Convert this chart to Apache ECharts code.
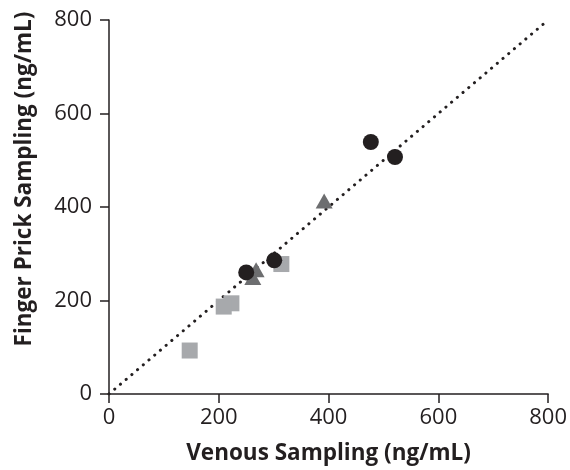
<!DOCTYPE html>
<html><head><meta charset="utf-8">
<script src="https://cdn.jsdelivr.net/npm/echarts@6/dist/echarts.min.js"></script>
<style>html,body{margin:0;padding:0;background:#fff}#c{width:570px;height:470px}</style>
</head><body><div id="c"></div>
<script>
const circles = [[477,539],[521,507],[301,286],[250,260]];
const triangles = [[392,413],[268,266],[262,249]];
const squares = [[314,278],[223,194],[209,187],[147,93]];
const identityLine = [[0,0],[800,800]];
const xTicks = [0,200,400,600,800];
const yTicks = [0,200,400,600,800];

const chart = echarts.init(document.getElementById('c'));
const axisCommon = {
  min: 0, max: 800, interval: 200,
  axisLine: {show: true, lineStyle: {color: '#231f20', width: 1.5}},
  axisTick: {show: true, inside: false, length: 9, lineStyle: {color: '#231f20', width: 1.5}},
  splitLine: {show: false},
  axisLabel: {fontFamily: 'Open Sans', fontSize: 22, color: '#231f20'}
};
const nameStyle = {fontFamily: 'Open Sans', fontWeight: 'bold', fontSize: 22.5, color: '#231f20'};
chart.setOption({
  animation: false,
  grid: {left: 109, right: 20, top: 20, bottom: 70},
  xAxis: Object.assign({}, axisCommon, {
    type: 'value', name: 'Venous Sampling (ng/mL)', nameLocation: 'middle', nameGap: 48,
    nameTextStyle: nameStyle,
    axisLabel: Object.assign({}, axisCommon.axisLabel, {margin: 13, formatter: v => xTicks.includes(v) ? String(v) : ''})
  }),
  yAxis: Object.assign({}, axisCommon, {
    type: 'value', name: 'Finger Prick Sampling (ng/mL)', nameLocation: 'middle', nameGap: 73,
    nameTextStyle: Object.assign({}, nameStyle, {padding: [0, 0, 0, 56]}),
    axisLabel: Object.assign({}, axisCommon.axisLabel, {margin: 17, formatter: v => yTicks.includes(v) ? String(v) : ''})
  }),
  series: [
    {type: 'line', data: identityLine, symbol: 'none', z: 1,
     lineStyle: {color: '#231f20', width: 3, type: [0.1, 7.4], cap: 'round'}},
    {type: 'scatter', data: squares, symbol: 'rect', symbolSize: 16, z: 2,
     itemStyle: {color: '#a7a9ac', opacity: 1}},
    {type: 'scatter', data: triangles, symbol: 'triangle', symbolSize: [17, 15], z: 3,
     itemStyle: {color: '#6d6e70', opacity: 1}},
    {type: 'scatter', data: circles, symbol: 'circle', symbolSize: 16, z: 4,
     itemStyle: {color: '#231f20', opacity: 1}}
  ]
});
</script></body></html>
